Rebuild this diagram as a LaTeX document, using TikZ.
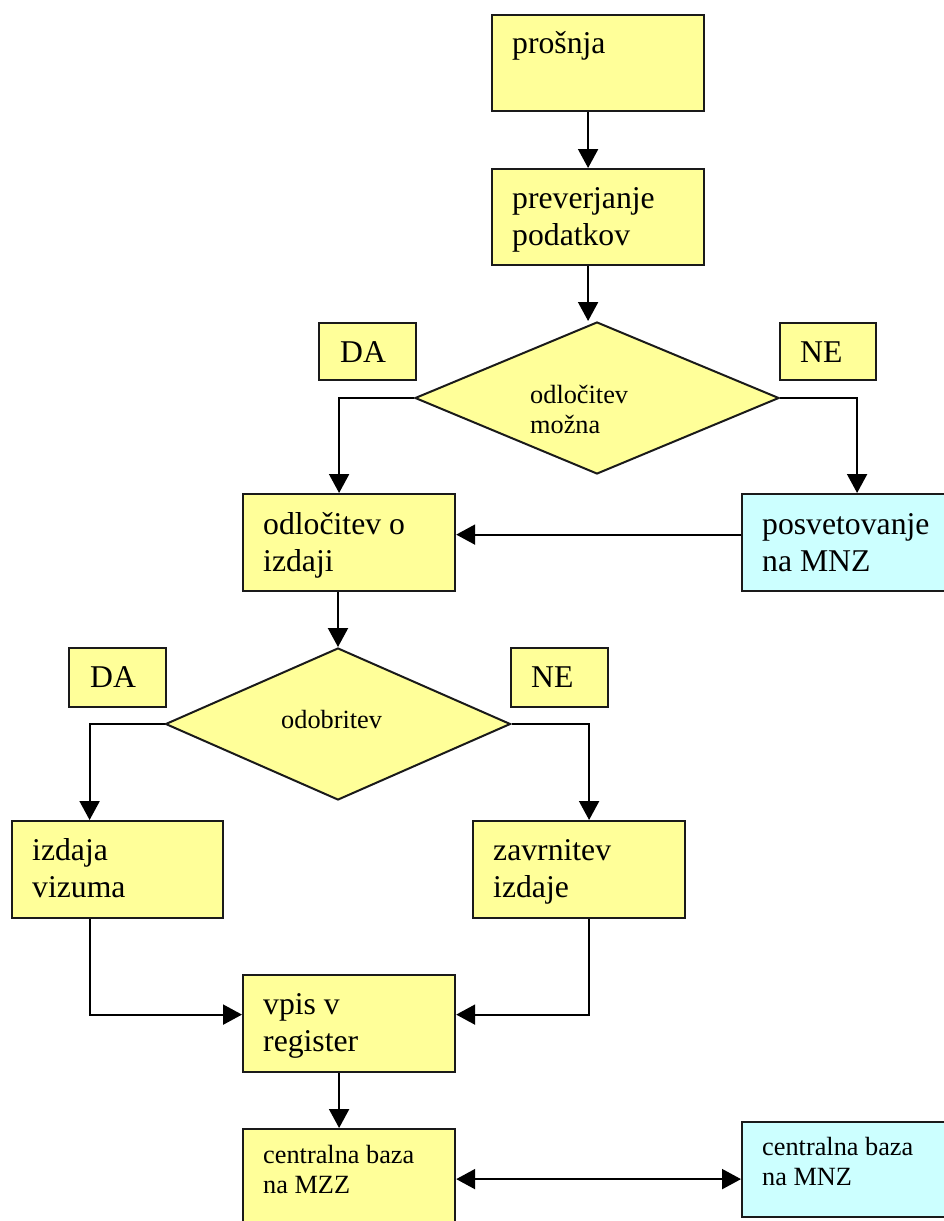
\documentclass[tikz,border=0pt]{standalone}
\usepackage{fontspec}
\setmainfont{Liberation Serif}
\usetikzlibrary{arrows.meta,shapes.geometric}
\definecolor{boxyellow}{HTML}{FFFF99}
\definecolor{boxcyan}{HTML}{CCFFFF}
\definecolor{edgegray}{HTML}{1A1A1A}
\begin{document}
\begin{tikzpicture}[x=1pt,y=-1pt,
  box/.style={rectangle,draw=edgegray,line width=2.2pt,fill=boxyellow,
    anchor=north west,inner sep=0pt,minimum width=#1},
  box/.default=212pt,
  cyanbox/.style={box=#1,fill=boxcyan},
  cyanbox/.default=212pt,
  decision/.style={diamond,draw=edgegray,line width=2pt,fill=boxyellow,
    inner sep=0pt},
  % anchored at the baseline of the last line of text
  bigtxt/.style={font=\fontsize{31.7}{37}\selectfont,anchor=base west,
    inner sep=0pt,align=left},
  smalltxt/.style={font=\fontsize{26.3}{30}\selectfont,anchor=base west,
    inner sep=0pt,align=left},
  arr/.style={draw=black,line width=2.1pt,-{Triangle[length=19pt,width=20pt]}},
  dblarr/.style={draw=black,line width=2.1pt,
    {Triangle[length=19pt,width=20pt]}-{Triangle[length=19pt,width=20pt]}}
]
\useasboundingbox (0,0) rectangle (943,1221);

% process boxes
\node[box,minimum height=96pt] (prosnja) at (491,14) {};
\node[box,minimum height=96pt] (prever) at (491,168) {};
\node[box,minimum height=97pt] (odl) at (242,493) {};
\node[cyanbox=214pt,minimum height=97pt] (posv) at (741,493) {};
\node[box=211pt,minimum height=97pt] (izd) at (11,820) {};
\node[box,minimum height=97pt] (zav) at (472,820) {};
\node[box,minimum height=97pt] (vpis) at (242,974) {};
\node[box,minimum height=110pt] (czz) at (242,1128) {};
\node[cyanbox=214pt,minimum height=95pt] (cnz) at (741,1121) {};

% yes / no tags
\node[box=97pt,minimum height=57pt] (da1) at (318,322) {};
\node[box=96pt,minimum height=57pt] (ne1) at (779,322) {};
\node[box=97pt,minimum height=59pt] (da2) at (68,647) {};
\node[box=97pt,minimum height=59pt] (ne2) at (510,647) {};

% decisions
\node[decision,minimum width=364pt,minimum height=152pt] (d1) at (597,398) {};
\node[decision,minimum width=345pt,minimum height=152pt] (d2) at (338,724) {};

% texts
\node[bigtxt] (tprosnja) at ([shift={(21pt,-39pt)}]prosnja.north west) {prošnja};
\node[bigtxt] (tprever) at ([shift={(21pt,-77pt)}]prever.north west) {preverjanje\\podatkov};
\node[bigtxt] (todl) at ([shift={(21pt,-78pt)}]odl.north west) {odločitev o\\izdaji};
\node[bigtxt] (tposv) at ([shift={(21pt,-78pt)}]posv.north west) {posvetovanje\\na MNZ};
\node[bigtxt] (tizd) at ([shift={(21pt,-77pt)}]izd.north west) {izdaja\\vizuma};
\node[bigtxt] (tzav) at ([shift={(21pt,-77pt)}]zav.north west) {zavrnitev\\izdaje};
\node[bigtxt] (tvpis) at ([shift={(21pt,-77pt)}]vpis.north west) {vpis v\\register};
\node[smalltxt] (tczz) at ([shift={(21pt,-65pt)}]czz.north west) {centralna baza\\na MZZ};
\node[smalltxt] (tcnz) at ([shift={(21pt,-64pt)}]cnz.north west) {centralna baza\\na MNZ};
\node[bigtxt] (tda1) at ([shift={(22pt,-40pt)}]da1.north west) {DA};
\node[bigtxt] (tne1) at ([shift={(21pt,-40pt)}]ne1.north west) {NE};
\node[bigtxt] (tda2) at ([shift={(22pt,-40pt)}]da2.north west) {DA};
\node[bigtxt] (tne2) at ([shift={(21pt,-40pt)}]ne2.north west) {NE};
\node[smalltxt] (td1) at ([shift={(-67pt,-35pt)}]d1.center) {odločitev\\možna};
\node[smalltxt] (td2) at ([shift={(-57pt,-4pt)}]d2.center) {odobritev};

% connectors
\draw[arr] ([xshift=-10pt]prosnja.south) -- ([xshift=-10pt]prever.north);
\draw[arr] ([xshift=-10pt]prever.south) -- ([xshift=-10pt]prever.south |- d1.north);
\draw[arr] (d1.west) -| ([xshift=-10pt]odl.north);
\draw[arr] (d1.east) -| ([xshift=8pt]posv.north);
\draw[arr] ([yshift=8pt]posv.west) -- ([yshift=8pt]posv.west -| odl.east);
\draw[arr] (d2.north |- odl.south) -- (d2.north);
\draw[arr] (d2.west) -| ([xshift=-28pt]izd.north);
\draw[arr] (d2.east) -| ([xshift=10pt]zav.north);
\coordinate (vpisin) at ([yshift=9pt]vpis.west);
\coordinate (vpisinr) at ([yshift=9pt]vpis.east);
\draw[arr] ([xshift=-28pt]izd.south) |- (vpisin);
\draw[arr] ([xshift=10pt]zav.south) |- (vpisinr);
\draw[arr] ([xshift=-10pt]vpis.south) -- ([xshift=-10pt]czz.north);
\coordinate (link) at ([yshift=-9.5pt]cnz.west);
\draw[dblarr] (link -| czz.east) -- (link);
\end{tikzpicture}
\end{document}
